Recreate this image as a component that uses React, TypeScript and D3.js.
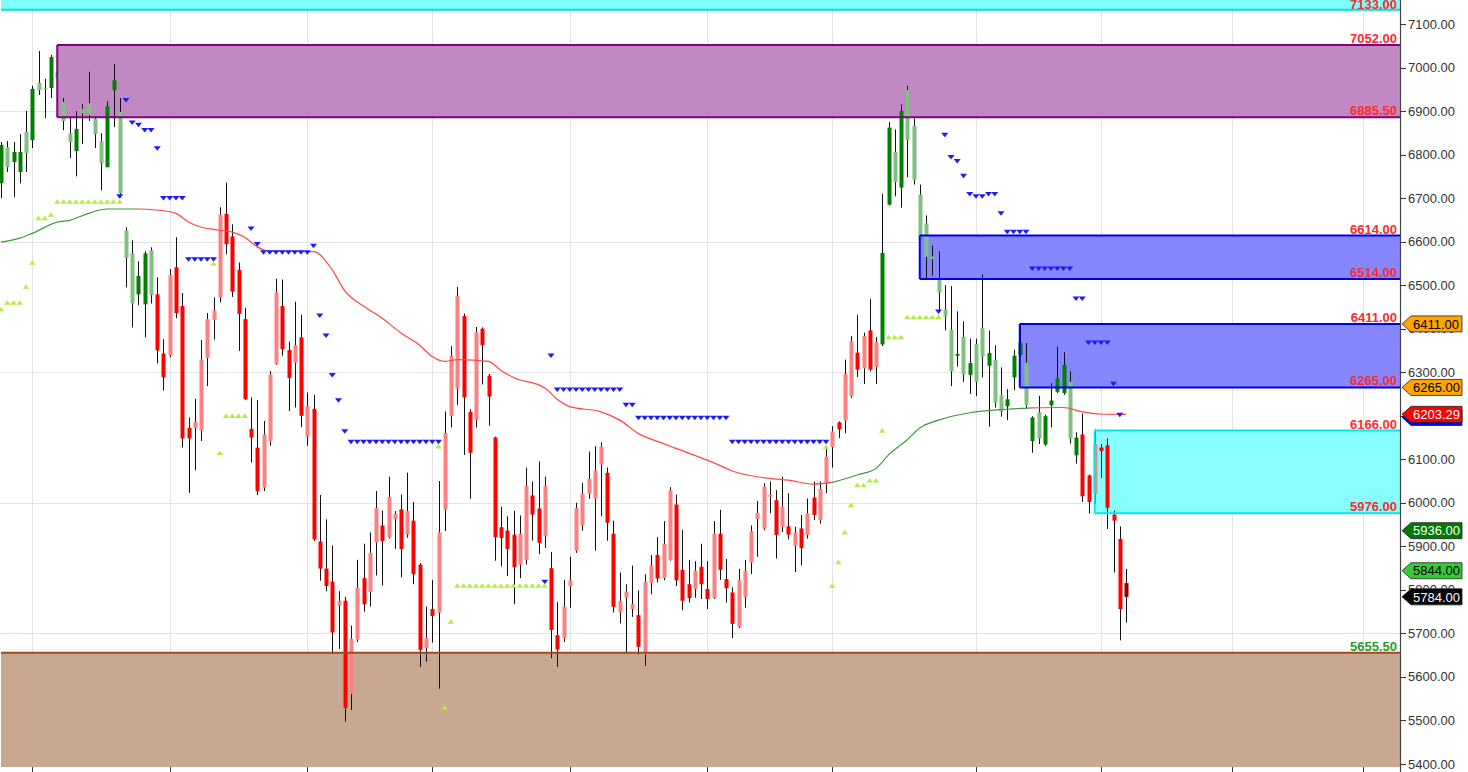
import * as d3 from 'd3'

// one entry per bar
const opens = [
  6734, 6817, 6783, 6760, 6852, 6833, 6965, 6953, 6953, 6990,
  6921, 6849, 6808, 6905, 6918, 6882, 6831, 6771, 6948, 6898,
  6626, 6573, 6479, 6456, 6580, 6479, 6343, 6339, 6541, 6452,
  6172, 6172, 6166, 6333, 6420, 6472, 6664, 6612, 6535, 6422,
  6170, 6127, 6035, 6141, 6319, 6452, 6351, 6322, 6380, 6152,
  6216, 5911, 5849, 5819, 5764, 5775, 5561, 5686, 5827, 5795,
  5909, 5948, 5921, 5962, 5985, 5927, 5959, 5858, 5666, 5756,
  5748, 5985, 6200, 6262, 6429, 6209, 6190, 6400, 6292, 6150,
  5944, 5936, 5927, 5858, 5869, 6017, 5987, 5923, 5850, 5696,
  5689, 5809, 5890, 5949, 6021, 6009, 6088, 6069, 5929, 5748,
  5782, 5756, 5742, 5652, 5816, 5880, 5827, 5869, 5996, 5846,
  5813, 5802, 5853, 5802, 5781, 5929, 5825, 5794, 5715, 5784,
  5863, 5963, 5941, 6014, 6006, 5945, 5946, 5900, 5941, 5926,
  6012, 5960, 6045, 6128, 6185, 6189, 6245, 6345, 6309, 6396,
  6312, 6364, 6685, 6806, 6724, 6948, 6866, 6708, 6642, 6566,
  6514, 6444, 6398, 6338, 6381, 6294, 6365, 6402, 6315, 6328,
  6248, 6222, 6288, 6340, 6322, 6142, 6208, 6134, 6224, 6255,
  6252, 6278, 6109, 6157, 6063, 6021, 6127, 6132, 5973, 5917,
  5816,
]
const highs = [
  6829, 6831, 6829, 6847, 6900, 6958, 7038, 6974, 7029, 7052,
  6930, 6884, 6900, 6916, 6990, 6888, 6849, 6923, 7008, 6930,
  6633, 6603, 6555, 6578, 6587, 6518, 6376, 6537, 6610, 6482,
  6196, 6239, 6374, 6436, 6472, 6679, 6736, 6640, 6552, 6448,
  6242, 6236, 6188, 6303, 6515, 6513, 6370, 6462, 6432, 6253,
  6248, 6018, 5962, 5902, 5797, 5784, 5718, 5869, 5906, 5932,
  6027, 5982, 6060, 5981, 6019, 6069, 6002, 5862, 5762, 5823,
  6050, 6210, 6360, 6496, 6435, 6215, 6404, 6403, 6296, 6152,
  5991, 5969, 5982, 5971, 6081, 6049, 6095, 6060, 5887, 5772,
  5823, 5876, 6000, 6046, 6118, 6130, 6139, 6081, 5959, 5840,
  5813, 5856, 5799, 5836, 5880, 5921, 5958, 6036, 6019, 5938,
  5869, 5866, 5906, 5866, 5958, 5984, 5871, 5806, 5848, 5869,
  5948, 6004, 6045, 6049, 6029, 6060, 6022, 5945, 5972, 6010,
  6049, 6049, 6129, 6176, 6187, 6329, 6383, 6432, 6391, 6468,
  6381, 6710, 6875, 6858, 6915, 6958, 6883, 6731, 6660, 6591,
  6578, 6500, 6498, 6440, 6417, 6377, 6377, 6525, 6396, 6362,
  6311, 6261, 6352, 6411, 6367, 6199, 6246, 6203, 6275, 6359,
  6346, 6302, 6162, 6205, 6065, 6169, 6135, 6148, 5982, 5946,
  5848,
]
const lows = [
  6700, 6760, 6702, 6734, 6760, 6815, 6937, 6884, 6930, 6964,
  6856, 6792, 6750, 6824, 6877, 6815, 6718, 6771, 6863, 6702,
  6495, 6403, 6454, 6380, 6458, 6320, 6258, 6334, 6424, 6127,
  6023, 6075, 6142, 6268, 6375, 6460, 6571, 6473, 6349, 6236,
  6093, 6018, 6027, 6131, 6317, 6338, 6211, 6219, 6174, 6131,
  5912, 5821, 5797, 5653, 5664, 5497, 5524, 5680, 5750, 5762,
  5833, 5810, 5918, 5894, 5829, 5920, 5813, 5623, 5635, 5679,
  5573, 5935, 6173, 6225, 6110, 6009, 6173, 6272, 6177, 5867,
  5854, 5832, 5767, 5827, 5858, 5913, 5882, 5896, 5643, 5623,
  5680, 5759, 5885, 5936, 6009, 5890, 5969, 5913, 5748, 5723,
  5656, 5738, 5652, 5625, 5790, 5817, 5822, 5867, 5809, 5753,
  5771, 5782, 5779, 5756, 5779, 5823, 5771, 5689, 5712, 5759,
  5836, 5876, 5937, 5976, 5872, 5933, 5916, 5841, 5856, 5918,
  5960, 5952, 6022, 6081, 6149, 6160, 6241, 6289, 6273, 6302,
  6273, 6360, 6683, 6704, 6678, 6748, 6731, 6612, 6512, 6522,
  6441, 6396, 6268, 6313, 6278, 6250, 6245, 6288, 6175, 6219,
  6198, 6190, 6259, 6335, 6217, 6115, 6135, 6131, 6173, 6252,
  6248, 6136, 6090, 6002, 5975, 5998, 6057, 5940, 5840, 5684,
  5725,
]
const closes = [
  6822, 6771, 6806, 6806, 6803, 6951, 6948, 6951, 7024, 6976,
  6877, 6829, 6859, 6895, 6891, 6847, 6780, 6911, 6971, 6711,
  6562, 6458, 6521, 6573, 6477, 6350, 6288, 6523, 6436, 6148,
  6148, 6186, 6329, 6422, 6442, 6662, 6594, 6485, 6434, 6238,
  6150, 6027, 6157, 6295, 6483, 6353, 6287, 6362, 6200, 6222,
  5916, 5849, 5809, 5702, 5774, 5529, 5688, 5805, 5767, 5885,
  5988, 5912, 6013, 5975, 5894, 5981, 5836, 5662, 5690, 5740,
  5932, 6160, 6338, 6475, 6242, 6115, 6392, 6362, 6244, 5921,
  5919, 5894, 5852, 5929, 6039, 5973, 5908, 6039, 5708, 5663,
  5762, 5822, 5988, 6022, 6055, 6075, 6129, 5954, 5761, 5775,
  5796, 5767, 5669, 5819, 5856, 5826, 5906, 6029, 5822, 5775,
  5781, 5844, 5813, 5779, 5929, 5846, 5804, 5722, 5823, 5844,
  5935, 5977, 6037, 6019, 5926, 5991, 5927, 5932, 5896, 5976,
  5972, 6032, 6106, 6164, 6169, 6296, 6372, 6306, 6383, 6306,
  6369, 6574, 6862, 6737, 6900, 6833, 6742, 6612, 6565, 6560,
  6483, 6428, 6302, 6342, 6295, 6321, 6278, 6336, 6344, 6230,
  6209, 6238, 6338, 6368, 6225, 6196, 6148, 6199, 6235, 6286,
  6317, 6148, 6150, 6015, 6002, 6135, 6119, 5989, 5959, 5756,
  5784,
]
// G/g = green regime up/down bar, R/r = red regime down/up bar, D = current bar
const candleKind =
  'GgGGgGggGg' + 'ggGggggGGg' + 'ggGGgRRrRR' + 'RrrrrrRRRR' + 'RRrrrRRrRr' +
  'RRRRrRrrRr' + 'rRrrRrRRrR' + 'rrrrRRrRRR' + 'RRRrrRRrRR' + 'rrrrrrrRRr' +
  'rrRrrRrrRR' + 'RrRRrRRRrr' + 'rrrrRrRrRr' + 'RrrrRrrRrR' + 'rGGgGggggg' +
  'gggGgGggGg' + 'gGGGgGgGGG' + 'GgGRRrRRRR' + 'D'

// moving average, sampled along the bars
const maBars = [
  0, 3, 5, 9, 11, 14, 17, 22, 26, 28, 30, 32, 34, 37, 39, 41, 43, 50, 53, 55,
  58, 61, 64, 67, 69, 71, 73, 78, 80, 82, 87, 89, 91, 96, 99, 102, 106, 108, 113, 115,
  117, 119, 123, 126, 130, 133, 137, 140, 142, 145, 147, 150, 155, 161, 165, 170, 173, 176, 180,
]
const maValues = [
  6599, 6608, 6619, 6645, 6649, 6665, 6675, 6675, 6671, 6665, 6645, 6633, 6628, 6622, 6610, 6588, 6578, 6577, 6535, 6487,
  6452, 6424, 6390, 6362, 6336, 6325, 6329, 6325, 6304, 6288, 6264, 6238, 6221, 6209, 6190, 6159, 6136, 6125, 6098, 6086,
  6073, 6065, 6056, 6052, 6043, 6047, 6064, 6079, 6110, 6145, 6172, 6190, 6207, 6215, 6218, 6219, 6209, 6204, 6203,
]
const maTrend =
  'uuuuuuu' + 'dddddddddddddddddddddddddddddddddddddd' + 'uuuuuuuuu' + 'ddddd'

// trailing stop markers
const stopDownBars = [
  19, 20, 21, 22, 23, 24, 25, 26, 27, 28, 29, 30, 31, 32, 33, 34,
  40, 41, 42, 43, 44, 45, 46, 47, 48, 49, 50, 51, 52, 53, 54, 55,
  56, 57, 58, 59, 60, 61, 62, 63, 64, 65, 66, 67, 68, 69, 70,
  87, 88, 89, 90, 91, 92, 93, 94, 95, 96, 97, 98, 99, 100, 101,
  102, 103, 104, 105, 106, 107, 108, 109, 110, 111, 112, 113, 114, 115, 116,
  117, 118, 119, 120, 121, 122, 123, 124, 125, 126, 127, 128, 129, 130, 131, 132,
  150, 151, 152, 153, 154, 155, 156, 157, 158, 159, 160, 161, 162, 163, 164,
  165, 166, 167, 168, 169, 170, 171, 172, 173, 174, 175, 176, 177, 178, 179,
]
const stopDownPrices = [
  6704, 6925, 6873, 6868, 6856, 6856, 6814, 6700, 6700, 6700, 6700, 6559, 6559, 6559, 6559, 6559,
  6630, 6594, 6575, 6575, 6575, 6575, 6575, 6575, 6575, 6575, 6590, 6430, 6384, 6293, 6235, 6164,
  6140, 6140, 6140, 6140, 6140, 6140, 6140, 6140, 6140, 6140, 6140, 6140, 6140, 6140, 6140,
  5818, 6338, 6260, 6260, 6260, 6260, 6260, 6260, 6260, 6260, 6260, 6260, 6260, 6225, 6225,
  6195, 6195, 6195, 6195, 6195, 6195, 6195, 6195, 6195, 6195, 6195, 6195, 6195, 6195, 6195,
  6140, 6140, 6140, 6140, 6140, 6140, 6140, 6140, 6140, 6140, 6140, 6140, 6140, 6140, 6140, 6140,
  6439, 6845, 6794, 6785, 6751, 6709, 6704, 6704, 6709, 6709, 6665, 6622, 6622, 6622, 6622,
  6538, 6538, 6538, 6538, 6538, 6538, 6538, 6469, 6469, 6368, 6368, 6368, 6368, 6273, 6202,
]
const stopUpBars = [
  0, 1, 2, 3, 4, 5, 6, 7, 8, 9, 10, 11, 12, 13, 14, 15, 16, 17, 18, 19,
  34, 35, 36, 37, 38, 39,
  70, 71, 72, 73, 74, 75, 76, 77, 78, 79, 80, 81, 82, 83, 84, 85, 86, 87,
  132, 133, 134, 135, 136, 137, 138, 139, 140, 141, 142, 143, 144, 145, 146, 147, 148, 149, 150,
]
const stopUpPrices = [
  6445, 6460, 6460, 6460, 6497, 6552, 6654, 6654, 6662, 6692, 6692, 6692, 6692, 6692, 6692, 6692, 6692, 6692, 6692, 6692,
  6550, 6115, 6200, 6200, 6200, 6200,
  6130, 5530, 5727, 5810, 5810, 5810, 5810, 5810, 5810, 5810, 5810, 5810, 5810, 5810, 5810, 5810, 5810, 5810,
  6128, 5810, 5864, 5933, 5995, 6041, 6041, 6052, 6052, 6166, 6381, 6381, 6381, 6427, 6427, 6427, 6427, 6427, 6427,
]

// supply / demand zones
const zoneStartBar = [0, 9, 147, 163, 175, 0]
const zoneTop = [7170, 7052, 6614, 6411, 6166, 5655.5]
const zoneBottom = [7133, 6885.5, 6514, 6265, 5976, 5380]
const levelLabels = [7133, 7052, 6885.5, 6614, 6514, 6411, 6265, 6166, 5976, 5655.5]

const priceTicks = [
  5400, 5500, 5600, 5700, 5800, 5900, 6000, 6100, 6200, 6300, 6400, 6500, 6600, 6700, 6800, 6900, 7000, 7100,
]
const gridPrices = [5700, 6000, 6300, 6600, 6900]
const gridBars = [5, 27, 49, 69, 91, 113, 133, 156, 176, 197, 218]

const tagValues = [6196, 6411, 6265, 6203.29, 5936, 5844, 5784]

// styles
const KIND_COLOR: Record<string, string> = {
  G: '#008000', g: '#80c080', R: '#ff0000', r: '#ff8080', D: '#8b0000',
}
const ZONE_FILL = ['#80ffff', '#c288c4', '#8686ff', '#8686ff', '#88ffff', '#c9a892']
const ZONE_STROKE = ['#00e0e0', '#800080', '#0000e8', '#0000e8', '#00eaea', '#9c4a22']
const ZONE_EDGES = ['b', 'tbl', 'tbl', 'tbl', 'tbl', 't']
const TAG_FILL = ['#0000ff', '#ffa500', '#ffa500', '#ff0000', '#007a00', '#33cc33', '#000000']
const TAG_TEXT = ['', '#000000', '#000000', '#ffffff', '#ffffff', '#000000', '#ffffff']

const W = 1468
const H = 772
const AXIS_X = 1400
const PLOT_BOTTOM = 767
const FONT = "'Liberation Sans', Arial, sans-serif"

export default function App() {
  const x = d3.scaleLinear().domain([0, 180]).range([1, 1126])
  const y = d3.scaleLinear().domain([5400, 7100]).range([764, 24])
  const fmt = d3.format('.2f')

  const line = d3
    .line<[number, number]>()
    .x(d => x(d[0]))
    .y(d => y(d[1]))
    .curve(d3.curveMonotoneX)

  // split the moving average into coloured runs
  const runs: { up: boolean; pts: [number, number][] }[] = []
  for (let k = 0; k < maBars.length - 1; k++) {
    const up = maTrend[k] === 'u'
    const last = runs[runs.length - 1]
    if (last && last.up === up) {
      last.pts.push([maBars[k + 1], maValues[k + 1]])
    } else {
      runs.push({ up, pts: [[maBars[k], maValues[k]], [maBars[k + 1], maValues[k + 1]]] })
    }
  }

  return (
    <svg
      width={W}
      height={H}
      style={{ position: 'absolute', left: 0, top: 0, background: '#fff' }}
      fontFamily={FONT}
    >
      {/* grid */}
      {gridPrices.map(p => (
        <line key={'gy' + p} x1={0} x2={AXIS_X} y1={Math.round(y(p)) + 0.5} y2={Math.round(y(p)) + 0.5}
          stroke="#e3e3e3" />
      ))}
      {gridBars.map(b => (
        <line key={'gx' + b} x1={Math.round(x(b)) + 0.5} x2={Math.round(x(b)) + 0.5} y1={0} y2={PLOT_BOTTOM}
          stroke="#e3e3e3" />
      ))}

      {/* zone fills */}
      {zoneStartBar.map((s, k) => (
        <rect key={'zf' + k} x={x(s)} y={y(zoneTop[k])} width={AXIS_X - x(s)}
          height={Math.min(PLOT_BOTTOM, y(zoneBottom[k])) - y(zoneTop[k])} fill={ZONE_FILL[k]} />
      ))}

      {/* candles */}
      {closes.map((c, i) => {
        const cx = Math.round(x(i))
        const o = opens[i]
        const top = y(Math.max(o, c))
        const bot = y(Math.min(o, c))
        return (
          <g key={'c' + i}>
            <line x1={cx + 0.5} x2={cx + 0.5} y1={y(highs[i])} y2={y(lows[i])} stroke="#111" />
            <rect x={cx - 1.5} y={top} width={4} height={Math.max(1.2, bot - top)}
              fill={KIND_COLOR[candleKind[i]]} />
          </g>
        )
      })}

      {/* zone borders */}
      {zoneStartBar.map((s, k) => {
        const x0 = x(s)
        const yt = y(zoneTop[k])
        const yb = y(zoneBottom[k])
        const e = ZONE_EDGES[k]
        return (
          <g key={'zb' + k} stroke={ZONE_STROKE[k]} strokeWidth={2}>
            {e.includes('t') && <line x1={x0} x2={AXIS_X} y1={yt} y2={yt} />}
            {e.includes('b') && <line x1={x0} x2={AXIS_X} y1={yb} y2={yb} />}
            {e.includes('l') && <line x1={x0} x2={x0} y1={yt} y2={yb} />}
          </g>
        )
      })}

      {/* moving average */}
      {runs.map((r, k) => (
        <path key={'ma' + k} d={line(r.pts) || ''} fill="none"
          stroke={r.up ? '#3c9a3c' : '#ff4545'} strokeWidth={1.2} />
      ))}

      {/* trailing stops */}
      {stopDownBars.map((b, k) => {
        const cx = x(b)
        const cy = y(stopDownPrices[k])
        return <path key={'sd' + k} d={`M${cx - 3.5},${cy - 2.2}L${cx + 3.5},${cy - 2.2}L${cx},${cy + 2.3}Z`}
          fill="#1a1aff" />
      })}
      {stopUpBars.map((b, k) => {
        const cx = x(b)
        const cy = y(stopUpPrices[k])
        return <path key={'su' + k} d={`M${cx - 3.2},${cy + 2.2}L${cx + 3.2},${cy + 2.2}L${cx},${cy - 2.3}Z`}
          fill="#b4ec40" />
      })}

      {/* level labels */}
      {levelLabels.map((v, k) => (
        <text key={'ll' + k} x={AXIS_X - 3} y={Math.max(9, y(v) - 2)} textAnchor="end" fontSize={13}
          fontWeight="bold" fill={k === levelLabels.length - 1 ? '#2a9a2a' : '#ff2a2a'}>{fmt(v)}</text>
      ))}

      {/* right axis */}
      <rect x={AXIS_X + 1} y={0} width={W - AXIS_X - 1} height={H} fill="#fff" />
      <line x1={AXIS_X + 0.5} x2={AXIS_X + 0.5} y1={0} y2={H} stroke="#444" strokeWidth={1.2} />
      {gridBars.map(b => (
        <line key={'bt' + b} x1={Math.round(x(b)) + 0.5} x2={Math.round(x(b)) + 0.5} y1={PLOT_BOTTOM} y2={H}
          stroke="#333" />
      ))}
      {priceTicks.map(p => (
        <g key={'t' + p}>
          <line x1={AXIS_X} x2={AXIS_X + 6} y1={Math.round(y(p)) + 0.5} y2={Math.round(y(p)) + 0.5} stroke="#333" />
          <text x={AXIS_X + 8} y={y(p)} dy="0.35em" fontSize={13} fill="#333">{fmt(p)}</text>
        </g>
      ))}

      {/* price tags */}
      {tagValues.map((v, k) => {
        const cy = y(v)
        const left = AXIS_X + 2
        const pts = [
          [left, cy], [left + 9, cy - 8], [W - 6, cy - 8], [W - 6, cy + 8], [left + 9, cy + 8],
        ].map(p => p.join(',')).join(' ')
        return (
          <g key={'tag' + k}>
            <polygon points={pts} fill={TAG_FILL[k]} stroke="#222" strokeWidth={0.8} />
            {TAG_TEXT[k] && (
              <text x={left + 11} y={cy} dy="0.36em" fontSize={13} fill={TAG_TEXT[k]}>{fmt(v)}</text>
            )}
          </g>
        )
      })}
    </svg>
  )
}
